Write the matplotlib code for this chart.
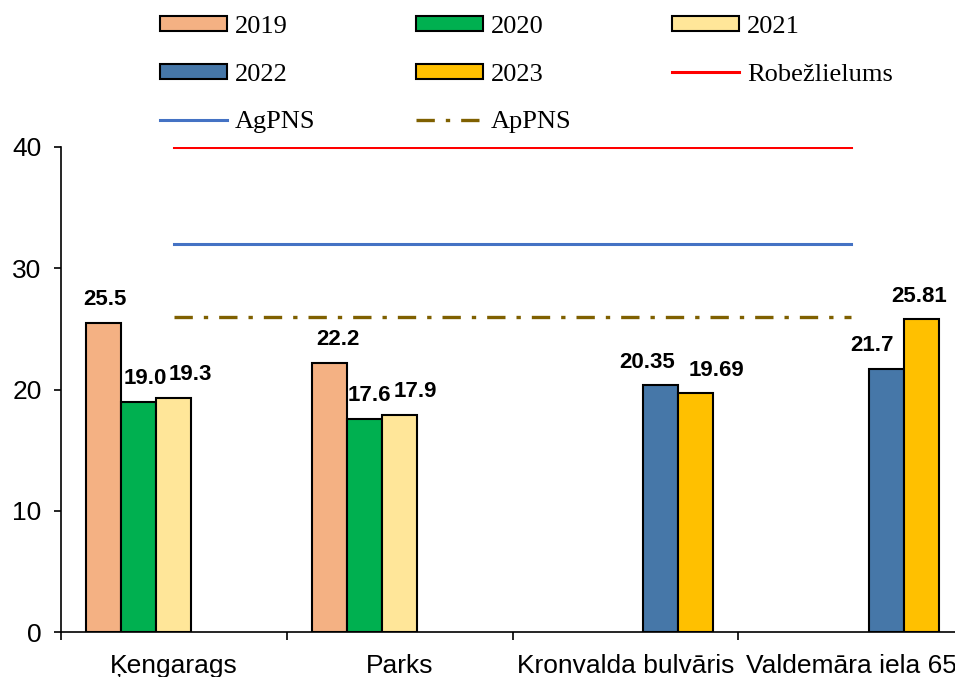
import numpy as np
import matplotlib
matplotlib.use("Agg")
import matplotlib.pyplot as plt

# stacijas un gadi
stations = ["Ķengarags", "Parks", "Kronvalda bulvāris", "Valdemāra iela 65"]
years = ["2019", "2020", "2021", "2022", "2023"]

nan = np.nan
v2019 = [25.5, 22.2, nan, nan]
v2020 = [19.0, 17.6, nan, nan]
v2021 = [19.3, 17.9, nan, nan]
v2022 = [nan, nan, 20.35, 21.7]
v2023 = [nan, nan, 19.69, 25.81]
series = [v2019, v2020, v2021, v2022, v2023]

# teksti virs stabiņiem
lab2019 = ["25.5", "22.2", "", ""]
lab2020 = ["19.0", "17.6", "", ""]
lab2021 = ["19.3", "17.9", "", ""]
lab2022 = ["", "", "20.35", "21.7"]
lab2023 = ["", "", "19.69", "25.81"]
labels = [lab2019, lab2020, lab2021, lab2022, lab2023]

limit_value = 40      # Robežlielums
agpns_value = 32      # AgPNS
appns_value = 26      # ApPNS

colors = ["#F4B183", "#00B050", "#FFE699", "#4677A8", "#FFC000"]
# datu etiķešu nobīde pa x (pikseļos), kā oriģinālā
label_dx = [[1, 8, 0, 0], [6, 5, 0, 0], [16, 16, 0, 0],
            [0, 0, -13, -14], [0, 0, 21, -2]]

plt.rcParams["font.family"] = ["Liberation Sans", "DejaVu Sans"]

fig = plt.figure(figsize=(9.55, 6.77), dpi=100)
ax = fig.add_axes([61 / 955, 45 / 677, 903 / 955, 485 / 677])

x = np.arange(len(stations))
w = 0.155
handles = {}
for i, (vals, labs) in enumerate(zip(series, labels)):
    vals = np.array(vals)
    m = ~np.isnan(vals)
    xs = x + (i - 2) * w
    bars = ax.bar(xs[m], vals[m], w, color=colors[i],
                  edgecolor="black", linewidth=1.5, label=years[i], zorder=3)
    for j in np.where(m)[0]:
        ax.annotate(labs[j], (xs[j], vals[j]), xytext=(label_dx[i][j], 23),
                    textcoords="offset pixels", ha="center", va="center",
                    fontsize=16, fontweight="bold", zorder=4)
    handles[years[i]] = bars

l1, = ax.plot([x[0], x[-1]], [limit_value] * 2, color="#FF0000", lw=2.2,
              label="Robežlielums", zorder=2)
l2, = ax.plot([x[0], x[-1]], [agpns_value] * 2, color="#4472C4", lw=2.2,
              label="AgPNS", zorder=2)
l3, = ax.plot([x[0], x[-1]], [appns_value] * 2, color="#7F6000", lw=2.4,
              ls=(0, (5.5, 3.3, 1.3, 3.3)), label="ApPNS", zorder=2)

ax.set_xlim(-0.5, len(stations) - 0.5)
ax.set_ylim(0, 40)
ax.set_yticks([0, 10, 20, 30, 40])
ax.tick_params(axis="y", direction="out", length=5, width=1.2, pad=9,
               labelsize=19)

ax.set_xticks(x)
ax.set_xticklabels(stations)
ax.set_xticks(np.arange(len(stations) + 1) - 0.5, minor=True)
ax.tick_params(axis="x", which="major", length=0, pad=16, labelsize=19)
ax.tick_params(axis="x", which="minor", direction="out", length=6, width=1.2)

for s in ["top", "right"]:
    ax.spines[s].set_visible(False)
for s in ["left", "bottom"]:
    ax.spines[s].set_linewidth(1.2)

# leģenda pa rindām (matplotlib aizpilda kolonnas)
order = [handles["2019"], handles["2022"], l2,
         handles["2020"], handles["2023"], l3,
         handles["2021"], l1]
names = ["2019", "2022", "AgPNS", "2020", "2023", "ApPNS", "2021", "Robežlielums"]
fig.legend(order, names, loc="upper left", bbox_to_anchor=(160 / 955, 1 - 16 / 677),
           ncol=3, frameon=False, borderpad=0, borderaxespad=0,
           handlelength=2.55, handleheight=0.52, handletextpad=0.3,
           columnspacing=3.8, labelspacing=0.97,
           prop={"family": "Liberation Serif", "size": 19})

fig.savefig("out.png", dpi=100)
